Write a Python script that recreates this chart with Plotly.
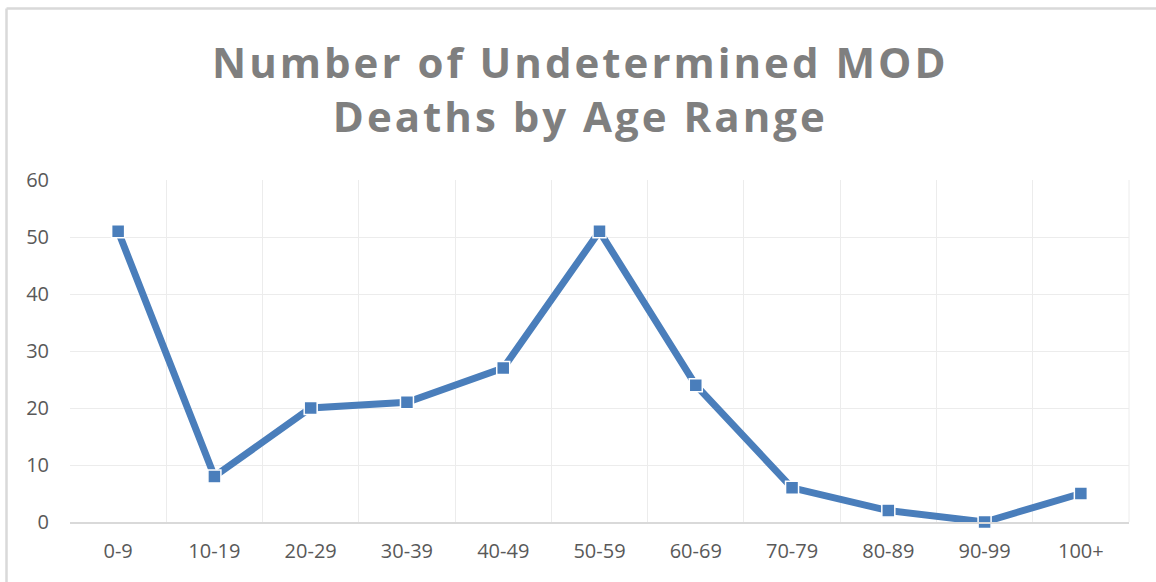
import plotly.graph_objects as go

categories = ["0-9", "10-19", "20-29", "30-39", "40-49", "50-59", "60-69", "70-79", "80-89", "90-99", "100+"]
deaths = [51, 8, 20, 21, 27, 51, 24, 6, 2, 0, 5]
y_ticks = [0, 10, 20, 30, 40, 50, 60]
title_lines = ["Number of Undetermined MOD", "Deaths by Age Range"]

W, H = 1156, 582
L, R, T, B = 70, 27, 180, 60
pw, ph = W - L - R, H - T - B

fig = go.Figure()
fig.add_trace(go.Scatter(
    x=categories, y=deaths, mode="lines+markers",
    line=dict(color="#4a7ebb", width=7),
    marker=dict(symbol="square", size=13, color="#4a7ebb", line=dict(color="white", width=1.5)),
    showlegend=False, cliponaxis=False,
))

title_text = "<br>".join(f'<span style="letter-spacing:3px">{t}</span>' for t in title_lines)

fig.update_layout(
    width=W, height=H, autosize=False,
    paper_bgcolor="white", plot_bgcolor="white",
    margin=dict(l=L, r=R, t=T, b=B, autoexpand=False),
    title=dict(
        text=title_text,
        x=0.502, xanchor="center", y=1 - 77.5 / H, yanchor="middle", yref="container",
        font=dict(family="Open Sans", size=42, color="#7f7f7f", weight="bold"),
    ),
    font=dict(family="Open Sans", color="#595959", size=20),
    xaxis=dict(
        type="category", range=[-0.5, len(categories) - 0.5], tickson="boundaries",
        showgrid=True, gridcolor="#ececec", gridwidth=1,
        showline=True, linecolor="#d9d9d9", linewidth=1.5, ticks="", ticklen=0, ticklabelstandoff=10,
        tickfont=dict(size=20, color="#595959"), automargin=False,
    ),
    yaxis=dict(
        range=[0, 60], tickvals=y_ticks, showgrid=True, gridcolor="#ececec", gridwidth=1,
        zeroline=False, showline=False, ticks="", ticklen=0, ticklabelstandoff=20,
        tickfont=dict(size=20, color="#595959"), automargin=False,
    ),
)
# right edge grid line of plot area
fig.add_shape(type="line", xref="x domain", yref="y domain", x0=1, x1=1, y0=0, y1=1,
              line=dict(color="#ececec", width=1))
# outer chart border (top and left edges, as in the reference crop)
top_y = (ph + T - 8.5) / ph
fig.add_shape(type="line", xref="paper", yref="paper", x0=-(L - 6.5) / pw, x1=(W - L) / pw, y0=top_y, y1=top_y,
              line=dict(color="#d9d9d9", width=2.5))
fig.add_shape(type="line", xref="paper", yref="paper", x0=-(L - 6.5) / pw, x1=-(L - 6.5) / pw, y0=-B / ph, y1=top_y,
              line=dict(color="#d9d9d9", width=2.5))

fig.write_html("out.html", config={"displayModeBar": False},
               post_script="document.body.style.margin='0';document.body.style.padding='0';")
